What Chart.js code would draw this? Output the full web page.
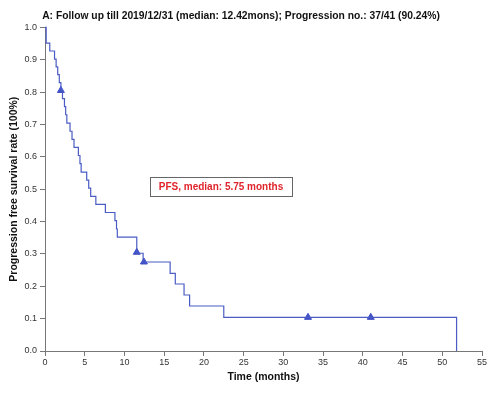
<!DOCTYPE html>
<html lang="en">
<head>
<meta charset="UTF-8">
<title>PFS Kaplan-Meier</title>
<script src="https://cdn.jsdelivr.net/npm/chart.js"></script>
<style>
  body { margin: 0; background: #fff; }
</style>
</head>
<body>
<canvas id="kmChart" width="491" height="393"></canvas>
<script>
// Kaplan-Meier steps: time (months) and survival after each step
const stepTimes = [0, 0.15, 0.6, 1.2, 1.4, 1.6, 1.8, 2.0, 2.2, 2.45, 2.6, 2.75, 3.15, 3.4, 3.65,
                   4.2, 4.4, 4.55, 5.25, 5.5, 5.75, 6.4, 7.6, 8.8, 9.0, 9.1, 11.55, 12.35,
                   15.75, 16.4, 17.5, 18.2, 22.5, 51.8];
const survival = [1.0, 0.951, 0.927, 0.902, 0.878, 0.854, 0.829, 0.805, 0.780, 0.755, 0.730, 0.704,
                  0.679, 0.654, 0.629, 0.604, 0.579, 0.553, 0.528, 0.503, 0.478, 0.453, 0.428,
                  0.403, 0.377, 0.352, 0.302, 0.275, 0.240, 0.207, 0.173, 0.139, 0.104, 0];
// censored observations (triangles)
const censorTimes = [2.0, 11.55, 12.45, 33.1, 41.0];
const censorSurvival = [0.805, 0.305, 0.275, 0.104, 0.104];

const xTicks = [0, 5, 10, 15, 20, 25, 30, 35, 40, 45, 50, 55];
const yTicks = [0, 0.1, 0.2, 0.3, 0.4, 0.5, 0.6, 0.7, 0.8, 0.9, 1.0];
const yTickLabels = ['0.0', '0.1', '0.2', '0.3', '0.4', '0.5', '0.6', '0.7', '0.8', '0.9', '1.0'];

const titleText = 'A: Follow up till 2019/12/31 (median: 12.42mons); Progression no.: 37/41 (90.24%)';
const medianText = 'PFS, median: 5.75 months';
const medianAt = [22.15, 0.509]; // box centre in data units

const FONT = '"Liberation Sans", Arial, Helvetica, sans-serif';

// draws the boxed median label
const medianBox = {
    id: 'medianBox',
    afterDatasetsDraw(chart) {
        const { ctx, scales: { x, y } } = chart;
        const cx = x.getPixelForValue(medianAt[0]);
        const cy = y.getPixelForValue(medianAt[1]);
        ctx.save();
        ctx.font = 'bold 10px ' + FONT;
        const w = Math.round(ctx.measureText(medianText).width + 18);
        const h = 19;
        ctx.strokeStyle = '#666';
        ctx.lineWidth = 1;
        ctx.strokeRect(Math.round(cx - w / 2) + 0.5, Math.round(cy - h / 2) + 0.5, w, h);
        ctx.fillStyle = '#e0242c';
        ctx.textAlign = 'center';
        ctx.textBaseline = 'middle';
        ctx.fillText(medianText, cx, cy + 0.5);
        ctx.restore();
    }
};

const ctx = document.getElementById('kmChart').getContext('2d');
new Chart(ctx, {
    type: 'line',
    data: {
        datasets: [{
            data: stepTimes.map((t, i) => ({ x: t, y: survival[i] })),
            borderColor: '#4b5cc4',
            borderWidth: 1.2,
            stepped: true,
            pointRadius: 0,
            fill: false,
            clip: false
        }, {
            data: censorTimes.map((t, i) => ({ x: t, y: censorSurvival[i] })),
            showLine: false,
            pointStyle: 'triangle',
            pointRadius: 4,
            backgroundColor: '#3f50c8',
            borderColor: '#3f50c8',
            borderWidth: 1,
            clip: false
        }]
    },
    options: {
        responsive: false,
        animation: false,
        layout: { padding: { right: 9 } },
        plugins: {
            legend: { display: false },
            tooltip: { enabled: false },
            title: {
                display: true,
                text: titleText,
                color: '#111',
                font: { family: FONT, size: 10.3, weight: 'bold' },
                padding: { top: 10, bottom: 5 }
            }
        },
        scales: {
            x: {
                type: 'linear',
                min: 0,
                max: 55,
                afterBuildTicks: s => { s.ticks = xTicks.map(v => ({ value: v })); },
                afterFit: s => { s.height = 42; },
                grid: { drawOnChartArea: false, tickLength: 5, color: '#777' },
                border: { color: '#777' },
                ticks: { color: '#333', padding: 1, font: { family: FONT, size: 9 } },
                title: {
                    display: true,
                    text: 'Time (months)',
                    color: '#111',
                    font: { family: FONT, size: 10.5, weight: 'bold' },
                    padding: { top: 0, bottom: 10 }
                }
            },
            y: {
                min: 0,
                max: 1,
                afterBuildTicks: s => { s.ticks = yTicks.map(v => ({ value: v })); },
                afterFit: s => { s.width = 45; },
                grid: { drawOnChartArea: false, tickLength: 5, color: '#777' },
                border: { color: '#777' },
                ticks: {
                    color: '#333',
                    padding: 3,
                    font: { family: FONT, size: 9 },
                    callback: (v) => yTickLabels[yTicks.indexOf(v)]
                },
                title: {
                    display: true,
                    text: 'Progression free survival rate (100%)',
                    color: '#111',
                    font: { family: FONT, size: 10.5, weight: 'bold' },
                    padding: { top: 8, bottom: 0 }
                }
            }
        }
    },
    plugins: [medianBox]
});
</script>
</body>
</html>
